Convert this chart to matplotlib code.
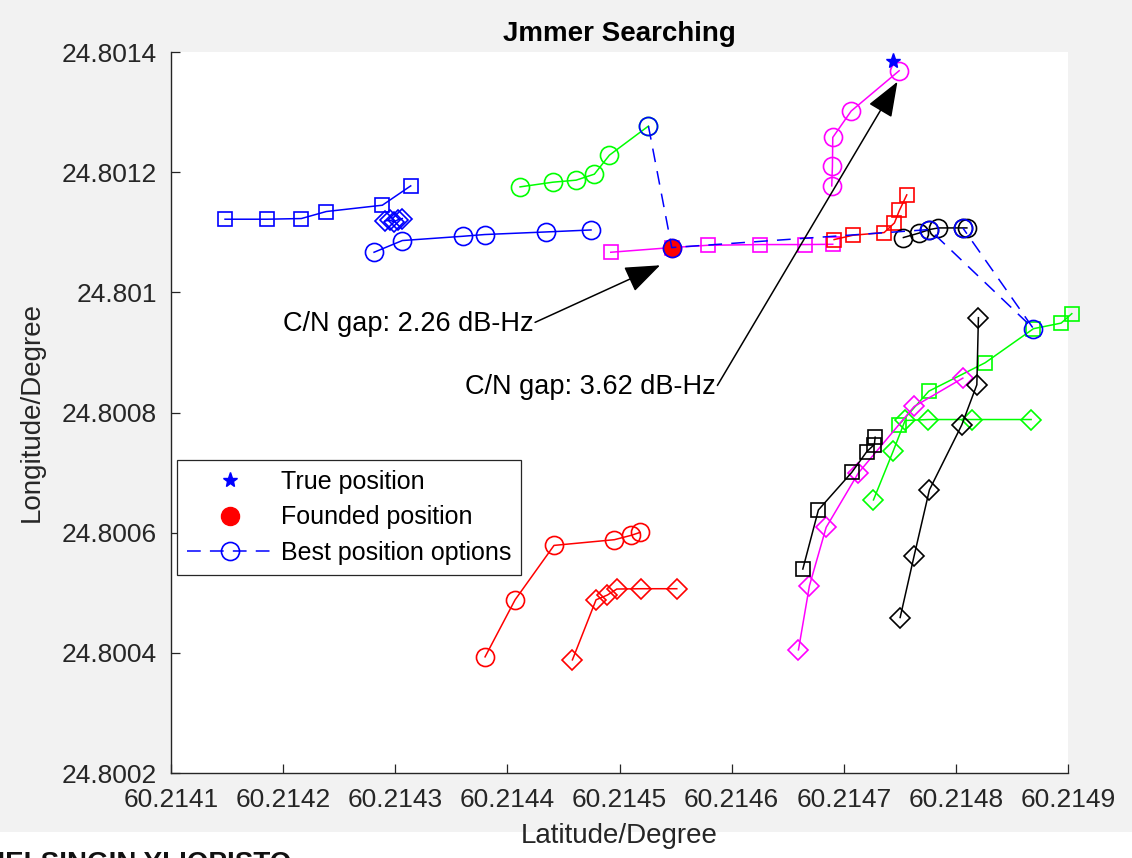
import matplotlib.pyplot as plt
from matplotlib.patches import Rectangle
from matplotlib.ticker import FuncFormatter

plt.rcParams['font.family'] = ['Liberation Sans', 'DejaVu Sans']

# candidate tracks (latitude, longitude)
blue_sq_lat = [60.2141482, 60.2141854, 60.2142162, 60.2142385, 60.2142885, 60.2143138]
blue_sq_lon = [24.8011217, 24.8011217, 24.8011228, 24.8011345, 24.8011450, 24.8011772]
blue_di_lat = [60.2142909, 60.2142954, 60.2142989, 60.2143028, 60.2143063]
blue_di_lon = [24.8011188, 24.8011200, 24.8011172, 24.8011212, 24.8011228]
blue_ci_lat = [60.2142811, 60.2143063, 60.2143602, 60.2143798, 60.2144345, 60.2144746]
blue_ci_lon = [24.8010667, 24.8010862, 24.8010933, 24.8010962, 24.8011005, 24.8011038]

green_ci_lat = [60.2144113, 60.2144405, 60.2144613, 60.2144776, 60.2144910, 60.2145258]
green_ci_lon = [24.8011755, 24.8011833, 24.8011867, 24.8011967, 24.8012283, 24.8012767]
green_sq_lat = [60.2149034, 60.2148939, 60.2148692, 60.2148261, 60.2147759, 60.2147494]
green_sq_lon = [24.8009645, 24.8009488, 24.8009395, 24.8008828, 24.8008355, 24.8007800]
green_di_lat = [60.2148671, 60.2148142, 60.2147755, 60.2147547, 60.2147443, 60.2147265]
green_di_lon = [24.8007883, 24.8007883, 24.8007883, 24.8007867, 24.8007367, 24.8006545]

magenta_sq_lat = [60.2144922, 60.2145466, 60.2145787, 60.2146254, 60.2146655, 60.2146902]
magenta_sq_lon = [24.8010667, 24.8010745, 24.8010783, 24.8010795, 24.8010795, 24.8010800]
magenta_ci_lat = [60.2146893, 60.2146899, 60.2146902, 60.2147066, 60.2147494]
magenta_ci_lon = [24.8011772, 24.8012100, 24.8012578, 24.8013017, 24.8013688]
magenta_di_lat = [60.2148062, 60.2147628, 60.2147131, 60.2146843, 60.2146694, 60.2146596]
magenta_di_lon = [24.8008572, 24.8008100, 24.8006995, 24.8006088, 24.8005117, 24.8004050]

red_sq_lat = [60.2146914, 60.2147081, 60.2147360, 60.2147452, 60.2147496, 60.2147562]
red_sq_lon = [24.8010878, 24.8010950, 24.8010995, 24.8011155, 24.8011362, 24.8011622]
red_ci_lat = [60.2143801, 60.2144069, 60.2144416, 60.2144954, 60.2145103, 60.2145184]
red_ci_lon = [24.8003933, 24.8004883, 24.8005788, 24.8005883, 24.8005955, 24.8006005]
red_di_lat = [60.2144580, 60.2144791, 60.2144892, 60.2144976, 60.2145195, 60.2145511]
red_di_lon = [24.8003883, 24.8004883, 24.8004962, 24.8005062, 24.8005067, 24.8005067]

black_sq_lat = [60.2147280, 60.2147273, 60.2147206, 60.2147072, 60.2146774, 60.2146635]
black_sq_lon = [24.8007588, 24.8007467, 24.8007350, 24.8007005, 24.8006378, 24.8005395]
black_ci_lat = [60.2147532, 60.2147675, 60.2147764, 60.2147844, 60.2148067, 60.2148098]
black_ci_lon = [24.8010912, 24.8010988, 24.8011045, 24.8011072, 24.8011072, 24.8011072]
black_di_lat = [60.2148201, 60.2148187, 60.2148053, 60.2147764, 60.2147628, 60.2147503]
black_di_lon = [24.8009578, 24.8008462, 24.8007795, 24.8006712, 24.8005617, 24.8004588]

true_lat, true_lon = 60.2147438, 24.8013850
found_lat, found_lon = 60.2145466, 24.8010745
best_lat = [60.2145258, 60.2145466, 60.2147764, 60.2148692, 60.2148062]
best_lon = [24.8012767, 24.8010745, 24.8011045, 24.8009395, 24.8011072]

gap_labels = ['C/N gap: 2.26 dB-Hz', 'C/N gap: 3.62 dB-Hz']
gap_tail = [(60.2144247, 24.8009500), (60.2145873, 24.8008450)]
gap_head = [(60.2145362, 24.8010450), (60.2147479, 24.8013505)]

x_ticks = [60.2141 + i * 0.0001 for i in range(9)]
y_ticks = [24.8002 + i * 0.0002 for i in range(7)]

BLUE, GREEN, MAGENTA, RED, BLACK = '#0000ff', '#00ff00', '#ff00ff', '#ff0000', '#000000'

fig = plt.figure(figsize=(11.32, 8.58), dpi=100, facecolor='#f2f2f2')
fig.add_artist(Rectangle((0, 0), 1, 26 / 858, transform=fig.transFigure,
                         facecolor='white', edgecolor='none', zorder=0))
fig.text(-15 / 1132, 1 - 851 / 858, 'HELSINGIN YLIOPISTO', fontsize=20,
         fontweight='bold', va='top', ha='left', color='#111111')

ax = fig.add_axes([171 / 1132, 85 / 858, 897 / 1132, 721 / 858])
ax.set_facecolor('white')

tracks = [
    (blue_sq_lat, blue_sq_lon, BLUE, 's'),
    (blue_di_lat, blue_di_lon, BLUE, 'D'),
    (blue_ci_lat, blue_ci_lon, BLUE, 'o'),
    (green_ci_lat, green_ci_lon, GREEN, 'o'),
    (green_sq_lat, green_sq_lon, GREEN, 's'),
    (green_di_lat, green_di_lon, GREEN, 'D'),
    (magenta_sq_lat, magenta_sq_lon, MAGENTA, 's'),
    (magenta_ci_lat, magenta_ci_lon, MAGENTA, 'o'),
    (magenta_di_lat, magenta_di_lon, MAGENTA, 'D'),
    (red_sq_lat, red_sq_lon, RED, 's'),
    (red_ci_lat, red_ci_lon, RED, 'o'),
    (red_di_lat, red_di_lon, RED, 'D'),
    (black_sq_lat, black_sq_lon, BLACK, 's'),
    (black_ci_lat, black_ci_lon, BLACK, 'o'),
    (black_di_lat, black_di_lon, BLACK, 'D'),
]
msize = {'s': 10.5, 'o': 13, 'D': 10.5}
for lat, lon, c, m in tracks:
    ax.plot(lat, lon, color=c, marker=m, ms=msize[m], mfc='none', mec=c, mew=1.2,
            lw=1.1, clip_on=False)

ax.plot(true_lat, true_lon, '*', color=BLUE, ms=11, label='True position', clip_on=False)
ax.plot(found_lat, found_lon, 'o', color=RED, ms=13, label='Founded position')
ax.plot(best_lat, best_lon, color=BLUE, ls=(0, (9, 6)), lw=1.1, marker='o', ms=13,
        mfc='none', mew=1.2, label='Best position options')

for txt, tail, head in zip(gap_labels, gap_tail, gap_head):
    ax.annotate('', xy=head, xytext=tail,
                arrowprops=dict(arrowstyle='-|>,head_length=1.1,head_width=0.42',
                                color='k', lw=1.1, shrinkA=0, shrinkB=0,
                                mutation_scale=20))
    ax.text(tail[0] - 0.0000015, tail[1] - 0.000002, txt, fontsize=19.5,
            ha='right', va='center', color='k')

ax.set_xlim(60.2141, 60.2149)
ax.set_ylim(24.8002, 24.8014)
ax.set_xticks(x_ticks)
ax.set_yticks(y_ticks)
ax.xaxis.set_major_formatter(FuncFormatter(lambda v, p: f'{v:.4f}'.rstrip('0')))
ax.yaxis.set_major_formatter(FuncFormatter(lambda v, p: f'{v:.4f}'.rstrip('0')))
ax.tick_params(direction='in', length=6.5, width=0.9, labelsize=19,
               colors='#262626')
ax.tick_params(axis='x', pad=11)
ax.tick_params(axis='y', pad=10)
for s in ['top', 'right']:
    ax.spines[s].set_visible(False)
for s in ['left', 'bottom']:
    ax.spines[s].set_color('#262626')
    ax.spines[s].set_linewidth(1.0)

ax.set_xlabel('Latitude/Degree', fontsize=20, color='#262626', labelpad=8)
ax.set_ylabel('Longitude/Degree', fontsize=20, color='#262626', labelpad=12)
ax.set_title('Jmmer Searching', fontsize=20, fontweight='bold', pad=8)

leg = ax.legend(loc='upper left', bbox_to_anchor=(0.0067, 0.434), borderaxespad=0,
                fontsize=18, handlelength=3.4, handletextpad=0.35,
                labelspacing=0.45, borderpad=0.4, fancybox=False,
                edgecolor='#262626', framealpha=1)
leg.get_frame().set_linewidth(0.9)

fig.savefig('out.png', dpi=100, facecolor=fig.get_facecolor())
